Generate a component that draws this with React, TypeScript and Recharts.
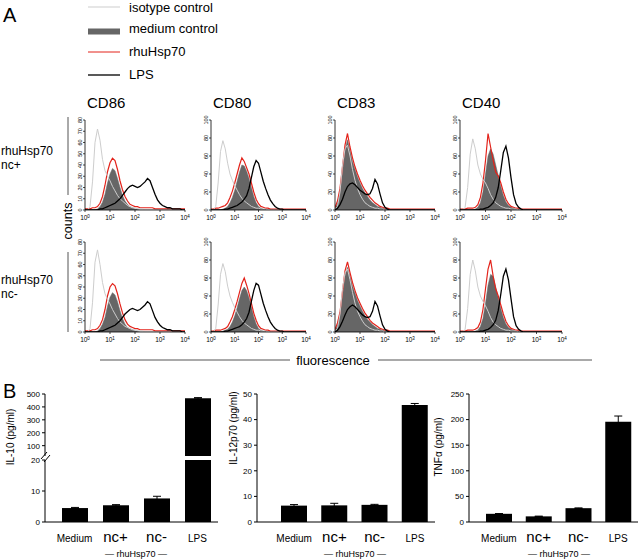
import React from 'react';
import { ComposedChart, Area, Line, XAxis, YAxis, BarChart, Bar, ErrorBar } from 'recharts';

const FONT = '"Liberation Sans", Arial, Helvetica, sans-serif';

// ---------- Panel A data (log10 fluorescence bins 10^0 .. 10^4) ----------
const logBins = [0,0.1,0.2,0.3,0.4,0.5,0.6,0.7,0.8,0.9,1,1.1,1.2,1.3,1.4,1.5,1.6,1.7,1.8,1.9,2,2.1,2.2,2.3,2.4,2.5,2.6,2.7,2.8,2.9,3,3.1,3.2,3.3,3.4,3.5,3.6,3.7,3.8,3.9,4];
const logTicks = [0, 1, 2, 3, 4];
const markers = ['CD86', 'CD80', 'CD83', 'CD40'];
const ticks80 = [0, 10, 20, 30, 40, 50, 60, 70, 80];
const ticks100 = [0, 20, 40, 60, 80, 100];

// CD86, rhuHsp70 nc+
const iso86a = [0,0,3,25,60,72,62,45,35,30, 26,21,17,13,10,8,6,4,3,2, 2,1,1,1,0,0,0,0,0,0, 0,0,0,0,0,0,0,0,0,0,0];
const med86a = [0,0,0,0,0,1,3,7,14,24, 32,37,35,28,20,13,8,5,3,2, 1,1,0,0,0,0,0,0,0,0, 0,0,0,0,0,0,0,0,0,0,0];
const red86a = [1,1,1,2,2,3,6,12,22,34, 42,46,44,36,26,18,12,8,5,4, 3,3,2,2,2,2,2,2,1,1, 1,1,1,1,1,1,1,1,1,1,1];
const lps86a = [0,0,0,0,0,0,1,1,2,3, 4,5,6,8,10,13,16,19,21,22, 21,20,21,23,25,28,26,20,14,9, 6,4,3,2,2,1,1,1,1,0,0];
// CD86, rhuHsp70 nc-
const iso86b = [0,0,3,26,62,73,60,44,34,29, 25,20,16,12,9,7,5,4,3,2, 2,1,1,1,0,0,0,0,0,0, 0,0,0,0,0,0,0,0,0,0,0];
const med86b = [0,0,0,0,0,1,3,7,13,23, 31,35,33,27,19,12,7,4,3,2, 1,1,0,0,0,0,0,0,0,0, 0,0,0,0,0,0,0,0,0,0,0];
const red86b = [1,1,1,2,2,3,6,11,20,32, 40,43,41,34,25,17,11,7,5,4, 3,3,2,2,2,2,2,2,1,1, 1,1,1,1,1,1,1,1,1,1,1];
const lps86b = [0,0,0,0,0,0,1,1,2,3, 4,5,6,8,10,13,16,18,20,21, 20,19,20,22,24,27,25,19,13,9, 6,4,3,2,2,1,1,1,1,0,0];
// CD80
const iso80a = [0,0,4,30,65,77,68,52,40,33, 27,22,17,13,10,8,6,4,3,2, 2,1,1,1,0,0,0,0,0,0, 0,0,0,0,0,0,0,0,0,0,0];
const med80a = [0,0,0,0,0,1,2,4,8,14, 22,32,42,50,49,43,35,25,15,8, 4,2,1,1,0,0,0,0,0,0, 0,0,0,0,0,0,0,0,0,0,0];
const red80a = [1,1,2,2,3,4,5,8,14,21, 30,40,50,58,54,47,40,30,20,12, 7,4,3,2,2,1,1,1,1,1, 1,1,1,1,1,1,1,1,1,1,1];
const lps80a = [0,0,0,0,0,0,1,1,2,3, 4,5,7,9,12,16,24,36,48,55, 52,42,32,24,17,11,7,4,2,1, 1,0,0,0,0,0,0,0,0,0,0];
const iso80b = [0,0,4,30,64,76,67,51,40,33, 27,22,17,13,10,8,6,4,3,2, 2,1,1,1,0,0,0,0,0,0, 0,0,0,0,0,0,0,0,0,0,0];
const med80b = [0,0,0,0,0,1,2,3,6,11, 18,27,37,46,50,46,38,28,17,9, 4,2,1,1,0,0,0,0,0,0, 0,0,0,0,0,0,0,0,0,0,0];
const red80b = [1,1,2,2,2,3,4,6,11,17, 25,34,44,54,60,52,43,32,21,13, 7,4,3,2,2,1,1,1,1,1, 1,1,1,1,1,1,1,1,1,1,1];
const lps80b = [0,0,0,0,0,0,1,1,2,3, 4,5,6,8,11,15,22,34,46,54, 52,42,32,24,17,11,7,4,2,1, 1,0,0,0,0,0,0,0,0,0,0];
// CD83
const iso83a = [0,4,20,50,68,72,60,45,33,24, 17,12,8,6,4,3,2,2,1,1, 0,0,0,0,0,0,0,0,0,0, 0,0,0,0,0,0,0,0,0,0,0];
const med83a = [2,8,20,42,66,78,66,54,45,37, 30,24,19,15,11,8,6,4,3,2, 1,1,0,0,0,0,0,0,0,0, 0,0,0,0,0,0,0,0,0,0,0];
const red83a = [3,10,24,48,72,85,70,58,48,40, 33,27,22,18,14,11,8,6,4,3, 2,2,1,1,1,1,1,1,1,1, 1,1,1,1,1,1,1,1,1,1,1];
const lps83a = [0,2,6,12,20,26,29,30,28,25, 22,20,18,17,18,24,34,29,18,8, 3,1,0,0,0,0,0,0,0,0, 0,0,0,0,0,0,0,0,0,0,0];
const iso83b = [0,4,20,48,66,70,58,44,32,23, 17,12,8,6,4,3,2,2,1,1, 0,0,0,0,0,0,0,0,0,0, 0,0,0,0,0,0,0,0,0,0,0];
const med83b = [2,8,19,40,62,72,62,51,43,35, 29,23,18,14,11,8,6,4,3,2, 1,1,0,0,0,0,0,0,0,0, 0,0,0,0,0,0,0,0,0,0,0];
const red83b = [3,10,22,45,68,78,66,55,46,38, 32,26,21,17,13,10,8,6,4,3, 2,2,1,1,1,1,1,1,1,1, 1,1,1,1,1,1,1,1,1,1,1];
const lps83b = [0,2,6,12,19,25,28,30,28,25, 22,19,17,16,17,23,34,29,18,8, 3,1,0,0,0,0,0,0,0,0, 0,0,0,0,0,0,0,0,0,0,0];
// CD40
const iso40a = [0,0,3,25,62,79,68,50,40,34, 30,24,17,12,8,6,4,3,2,2, 1,1,1,0,0,0,0,0,0,0, 0,0,0,0,0,0,0,0,0,0,0];
const med40a = [0,0,0,0,0,0,1,3,8,20, 40,60,68,62,50,38,26,16,9,5, 3,2,1,1,0,0,0,0,0,0, 0,0,0,0,0,0,0,0,0,0,0];
const red40a = [1,1,1,2,2,2,3,6,14,30, 55,85,70,55,42,38,30,20,12,7, 4,3,2,2,1,1,1,1,1,1, 1,1,1,1,1,1,1,1,1,1,1];
const lps40a = [0,0,0,0,0,0,0,0,1,1, 2,3,5,8,14,25,44,64,71,58, 36,17,7,3,1,0,0,0,0,0, 0,0,0,0,0,0,0,0,0,0,0];
const iso40b = [0,0,3,26,64,80,68,50,40,34, 29,23,16,11,8,6,4,3,2,2, 1,1,1,0,0,0,0,0,0,0, 0,0,0,0,0,0,0,0,0,0,0];
const med40b = [0,0,0,0,0,0,1,2,6,15, 32,52,64,62,50,38,26,16,9,5, 3,2,1,1,0,0,0,0,0,0, 0,0,0,0,0,0,0,0,0,0,0];
const red40b = [1,1,1,2,2,2,3,5,11,25, 48,70,80,62,48,40,30,20,12,7, 4,3,2,2,1,1,1,1,1,1, 1,1,1,1,1,1,1,1,1,1,1];
const lps40b = [0,0,0,0,0,0,0,0,1,1, 2,3,5,8,13,24,42,62,70,58, 37,17,7,3,1,0,0,0,0,0, 0,0,0,0,0,0,0,0,0,0,0];

// ---------- Panel B data ----------
const conditions = ['Medium', 'nc+', 'nc-', 'LPS'];
const il10Values = [4.5, 5.4, 7.6, 467];
const il10Errors = [0.2, 0.2, 0.7, 5];
const il12Values = [6.4, 6.5, 6.7, 45.7];
const il12Errors = [0.4, 0.8, 0.2, 0.6];
const tnfValues = [16, 11, 27, 196];
const tnfErrors = [0.5, 0.5, 0.5, 11];
const il10LowTicks = [0, 10, 20];
const il10HighTicks = [100, 200, 300, 400, 500];
const il12Ticks = [0, 10, 20, 30, 40, 50];
const tnfTicks = [0, 50, 100, 150, 200, 250];

const LogTick = (p: any) => {
  const { x, y, payload } = p;
  return (
    <text x={x} y={y + 6} textAnchor="middle" fontSize={6.5} fill="#000">
      10<tspan dy={-2.5} fontSize={4.5}>{payload.value}</tspan>
    </text>
  );
};

const RotTick = (p: any) => {
  const { x, y, payload } = p;
  const bx = x + 1;
  return (
    <text x={bx} y={y} transform={`rotate(-90 ${bx} ${y})`} textAnchor="middle" fontSize={5.5} fill="#000">
      {payload.value}
    </text>
  );
};

function Histo(props: any) {
  const { x0, top, w, h, ymax, yticks, iso, med, red, lps } = props;
  const ML = 22, MR = 8, MT = 6, MB = 16;
  const rows = logBins.map((x, i) => ({ x, iso: iso[i], med: med[i], red: red[i], lps: lps[i] }));
  return (
    <div style={{ position: 'absolute', left: x0 - ML, top: top - MT }}>
      <ComposedChart width={w + ML + MR} height={h + MT + MB} data={rows} margin={{ top: MT, right: MR, left: 0, bottom: 0 }}>
        <XAxis type="number" dataKey="x" domain={[0, 4]} ticks={logTicks} interval={0} height={MB}
          tick={<LogTick />} tickSize={2} tickLine={{ stroke: '#000', strokeWidth: 0.7 }}
          axisLine={{ stroke: '#000', strokeWidth: 0.8 }} allowDataOverflow />
        <YAxis type="number" domain={[0, ymax]} ticks={yticks} interval={0} width={ML}
          tick={<RotTick />} tickSize={2} tickLine={{ stroke: '#000', strokeWidth: 0.7 }}
          axisLine={{ stroke: '#000', strokeWidth: 0.8 }} allowDataOverflow />
        <Area dataKey="med" type="linear" stroke="#666" strokeWidth={0.5} fill="#666" fillOpacity={1}
          isAnimationActive={false} dot={false} activeDot={false} />
        <Line dataKey="red" type="linear" stroke="#e3231b" strokeWidth={1.2} dot={false} activeDot={false} isAnimationActive={false} />
        <Line dataKey="iso" type="linear" stroke="#cdcdcd" strokeWidth={1} dot={false} activeDot={false} isAnimationActive={false} />
        <Line dataKey="lps" type="linear" stroke="#000" strokeWidth={1.3} dot={false} activeDot={false} isAnimationActive={false} />
      </ComposedChart>
    </div>
  );
}

const CatTick = (p: any) => {
  const { x, y, payload } = p;
  const big = String(payload.value).startsWith('nc');
  return (
    <text x={x} y={y + 20} textAnchor="middle" fontSize={big ? 15 : 10} fill="#000">
      {payload.value}
    </text>
  );
};

function BarPanel(props: any) {
  const { axisX, plotTop, plotW, plotH, values, errors, domain, ticks, padLeft, showX, minShown } = props;
  const YW = 30, MT = 5, XH = showX ? 30 : 0;
  const data = conditions.map((name, i) => ({
    name,
    value: minShown !== undefined && values[i] < minShown ? null : values[i],
    err: errors[i],
  }));
  return (
    <div style={{ position: 'absolute', left: axisX - YW, top: plotTop - MT }}>
      <BarChart width={YW + plotW + 2} height={MT + plotH + XH} data={data} margin={{ top: MT, right: 2, left: 0, bottom: 0 }}>
        <XAxis dataKey="name" hide={!showX} height={XH} padding={{ left: padLeft, right: 0 }} interval={0}
          tickLine={false} tickSize={0} tickMargin={0} tick={<CatTick />} axisLine={{ stroke: '#000', strokeWidth: 1 }} />
        <YAxis type="number" width={YW} domain={domain} ticks={ticks} interval={0} allowDataOverflow
          tickSize={3} tick={{ fontSize: 8, fill: '#000' }} axisLine={{ stroke: '#000', strokeWidth: 1 }}
          tickLine={{ stroke: '#000' }} />
        <Bar dataKey="value" fill="#000" barSize={26} isAnimationActive={false}>
          <ErrorBar dataKey="err" width={4} stroke="#000" strokeWidth={1} direction="y" />
        </Bar>
      </BarChart>
    </div>
  );
}

const histCols = [
  { x0: 85, w: 100, ymax: 80, yticks: ticks80, a: [iso86a, med86a, red86a, lps86a], b: [iso86b, med86b, red86b, lps86b] },
  { x0: 211, w: 95, ymax: 100, yticks: ticks100, a: [iso80a, med80a, red80a, lps80a], b: [iso80b, med80b, red80b, lps80b] },
  { x0: 335, w: 100, ymax: 100, yticks: ticks100, a: [iso83a, med83a, red83a, lps83a], b: [iso83b, med83b, red83b, lps83b] },
  { x0: 460, w: 102, ymax: 100, yticks: ticks100, a: [iso40a, med40a, red40a, lps40a], b: [iso40b, med40b, red40b, lps40b] },
];

export default function App() {
  return (
    <div style={{ position: 'absolute', left: 0, top: 0, width: 640, height: 559, background: '#fff', fontFamily: FONT, overflow: 'hidden' }}>
      {histCols.map((c, i) => (
        <React.Fragment key={i}>
          <Histo x0={c.x0} top={120} w={c.w} h={90} ymax={c.ymax} yticks={c.yticks}
            iso={c.a[0]} med={c.a[1]} red={c.a[2]} lps={c.a[3]} />
          <Histo x0={c.x0} top={242} w={c.w} h={90} ymax={c.ymax} yticks={c.yticks}
            iso={c.b[0]} med={c.b[1]} red={c.b[2]} lps={c.b[3]} />
        </React.Fragment>
      ))}

      <BarPanel axisX={45} plotTop={394} plotW={173} plotH={62} values={il10Values} errors={il10Errors}
        domain={[20, 500]} ticks={il10HighTicks} padLeft={9} showX={false} minShown={20} />
      <BarPanel axisX={45} plotTop={460} plotW={173} plotH={62} values={il10Values} errors={il10Errors}
        domain={[0, 20]} ticks={il10LowTicks} padLeft={9} showX={true} />
      <BarPanel axisX={257} plotTop={394} plotW={178} plotH={128} values={il12Values} errors={il12Errors}
        domain={[0, 50]} ticks={il12Ticks} padLeft={17} showX={true} />
      <BarPanel axisX={469} plotTop={394} plotW={169} plotH={128} values={tnfValues} errors={tnfErrors}
        domain={[0, 250]} ticks={tnfTicks} padLeft={10} showX={true} />

      <svg width={640} height={559} style={{ position: 'absolute', left: 0, top: 0, pointerEvents: 'none' }} fontFamily={FONT}>
        {/* Panel labels */}
        <text x={3} y={22} fontSize={20} fill="#000">A</text>
        <text x={3} y={398} fontSize={20} fill="#000">B</text>

        {/* Legend */}
        <line x1={88} x2={120} y1={7} y2={7} stroke="#cdcdcd" strokeWidth={1} />
        <rect x={88} y={28.5} width={32} height={6} fill="#666" />
        <line x1={88} x2={120} y1={52} y2={52} stroke="#e3231b" strokeWidth={1} />
        <line x1={88} x2={120} y1={75} y2={75} stroke="#222" strokeWidth={1.5} />
        <text x={129} y={11.5} fontSize={13} fill="#000">isotype control</text>
        <text x={129} y={33} fontSize={13} fill="#000">medium control</text>
        <text x={129} y={56} fontSize={13} fill="#000">rhuHsp70</text>
        <text x={129} y={79} fontSize={13} fill="#000">LPS</text>

        {/* Marker titles */}
        {markers.map((m, i) => (
          <text key={m} x={histCols[i].x0 + 2} y={108} fontSize={15} fill="#000">{m}</text>
        ))}

        {/* Row labels */}
        <text x={1} y={155} fontSize={12} fill="#000">rhuHsp70</text>
        <text x={1} y={169} fontSize={12} fill="#000">nc+</text>
        <text x={1} y={284} fontSize={12} fill="#000">rhuHsp70</text>
        <text x={1} y={298} fontSize={12} fill="#000">nc-</text>

        {/* counts axis */}
        <line x1={68} x2={68} y1={117} y2={195} stroke="#555" strokeWidth={1} />
        <line x1={68} x2={68} y1={252} y2={332} stroke="#555" strokeWidth={1} />
        <text x={72} y={221} fontSize={12.5} fill="#000" textAnchor="middle" transform="rotate(-90 72 221)">counts</text>

        {/* fluorescence axis */}
        <line x1={100} x2={290} y1={360} y2={360} stroke="#555" strokeWidth={1} />
        <line x1={378} x2={592} y1={360} y2={360} stroke="#555" strokeWidth={1} />
        <text x={333} y={365} fontSize={13} fill="#000" textAnchor="middle">fluorescence</text>

        {/* Bar chart y labels */}
        <text x={14} y={437} fontSize={10} fill="#000" textAnchor="middle" transform="rotate(-90 14 437)">IL-10 (pg/ml)</text>
        <text x={237} y={428} fontSize={10} fill="#000" textAnchor="middle" transform="rotate(-90 237 428)">IL-12p70 (pg/ml)</text>
        <text x={442} y={447} fontSize={10} fill="#000" textAnchor="middle" transform="rotate(-90 442 447)">TNFα (pg/ml)</text>

        {/* axis break marks */}
        <line x1={41} x2={47} y1={459} y2={452} stroke="#000" strokeWidth={1} />
        <line x1={44} x2={50} y1={462} y2={455} stroke="#000" strokeWidth={1} />

        {/* group labels */}
        <text x={136} y={557} fontSize={9} fill="#000" textAnchor="middle">— rhuHsp70 —</text>
        <text x={355} y={557} fontSize={9} fill="#000" textAnchor="middle">— rhuHsp70 —</text>
        <text x={559} y={557} fontSize={9} fill="#000" textAnchor="middle">— rhuHsp70 —</text>
      </svg>
    </div>
  );
}
